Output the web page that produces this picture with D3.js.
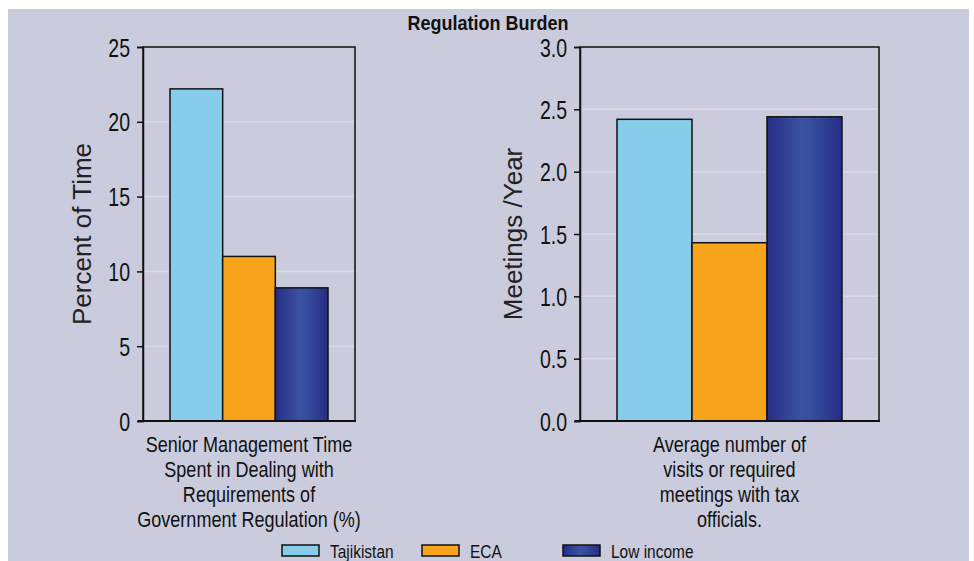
<!DOCTYPE html>
<html><head><meta charset="utf-8">
<script src="https://cdn.jsdelivr.net/npm/d3@7"></script>
<style>
body{margin:0;background:#fff;}
svg{display:block;}
</style></head><body>
<svg id="c" width="974" height="561"></svg>
<script>
const title = "Regulation Burden";
const seriesNames = ["Tajikistan", "ECA", "Low income"];
const seriesColors = ["#87CCEA", "#F8A31C", "#2E3A92"];
const chart1Values = [22.2, 11.0, 8.9];
const chart2Values = [2.42, 1.43, 2.44];
const chart1Ticks = [0, 5, 10, 15, 20, 25];
const chart2Ticks = [0, 0.5, 1.0, 1.5, 2.0, 2.5, 3.0];
const chart1Category = ["Senior Management Time", "Spent in Dealing with", "Requirements of", "Government Regulation (%)"];
const chart2Category = ["Average number of", "visits or required", "meetings with tax", "officials."];
const chart1YTitle = "Percent of Time";
const chart2YTitle = "Meetings /Year";

const FONT = "'Liberation Sans',Arial,sans-serif";
const svg = d3.select("#c");
svg.append("rect").attr("x",8).attr("y",9).attr("width",961).attr("height",552).attr("fill","#CACCDD");

const defs = svg.append("defs");
const g = defs.append("linearGradient").attr("id","navy").attr("x1","0").attr("x2","1").attr("y1","0").attr("y2","0");
g.append("stop").attr("offset","0").attr("stop-color","#262D86");
g.append("stop").attr("offset","0.45").attr("stop-color","#3A52A0");
g.append("stop").attr("offset","0.6").attr("stop-color","#364C9C");
g.append("stop").attr("offset","1").attr("stop-color","#262D86");
const fills = [seriesColors[0], seriesColors[1], "url(#navy)"];

function ntext(parent, x, y, sx, txt, size, anchor, weight){
  return parent.append("text").attr("transform",`translate(${x},${y}) scale(${sx},1)`)
    .attr("text-anchor",anchor||"start").attr("font-family",FONT).attr("font-size",size)
    .attr("font-weight",weight||"normal").attr("fill","#111").text(txt);
}

ntext(svg, 488, 30, 0.9, title, 20, "middle", "bold");

function panel(opt){
  const {x0,x1,y0,y1,domain,ticks,fmt,values,cat,ytitle,ytx,pad} = opt;
  const y = d3.scaleLinear().domain(domain).range([y1,y0]);
  const xs = d3.scaleBand().domain(seriesNames).range([x0+pad, x1-pad]).paddingInner(0).paddingOuter(0);
  const p = svg.append("g");
  p.selectAll("line.grid").data(ticks.filter(t=>t>domain[0] && t<domain[1])).join("line")
    .attr("x1",x0).attr("x2",x1).attr("y1",d=>y(d)).attr("y2",d=>y(d))
    .attr("stroke","#D9D9DF").attr("stroke-width",1.5);
  p.selectAll("rect.bar").data(values).join("rect")
    .attr("x",(d,i)=>xs(seriesNames[i])).attr("width",xs.bandwidth())
    .attr("y",d=>y(d)).attr("height",d=>y(0)-y(d))
    .attr("fill",(d,i)=>fills[i]).attr("stroke","#111").attr("stroke-width",1.5);
  p.append("path").attr("d",`M${x0},${y1}V${y0}H${x1}V${y1}`).attr("fill","none").attr("stroke","#111").attr("stroke-width",1.5);
  const ax = d3.axisLeft(y).tickValues(ticks).tickFormat(()=>"").tickSize(6).tickPadding(0);
  const ag = p.append("g").attr("transform",`translate(${x0},0)`).call(ax);
  ag.select(".domain").attr("stroke","#111").attr("stroke-width",1.5);
  ag.selectAll(".tick line").attr("stroke","#111").attr("stroke-width",1.5);
  ag.selectAll(".tick").each(function(d){
    ntext(d3.select(this), -13, 9, 0.78, fmt(d), 25, "end");
  });
  p.append("line").attr("x1",x0-5).attr("x2",x1+1).attr("y1",y1).attr("y2",y1).attr("stroke","#111").attr("stroke-width",2);
  p.append("text").attr("transform",`translate(${ytx},${(y0+y1)/2}) rotate(-90)`).attr("text-anchor","middle")
    .attr("font-family",FONT).attr("font-size",26).attr("fill","#222").text(ytitle);
  const cx = (x0+x1)/2;
  cat.forEach((t,i)=>ntext(p, cx, 452+i*25, 0.82, t, 22, "middle"));
}

panel({x0:143,x1:355,y0:47,y1:421,domain:[0,25],ticks:chart1Ticks,fmt:d3.format("d"),values:chart1Values,cat:chart1Category,ytitle:chart1YTitle,ytx:91,pad:27});
panel({x0:580,x1:879,y0:47,y1:421,domain:[0,3],ticks:chart2Ticks,fmt:d3.format(".1f"),values:chart2Values,cat:chart2Category,ytitle:chart2YTitle,ytx:522,pad:37});

const legX = [282, 422, 563];
const lg = svg.append("g");
seriesNames.forEach((s,i)=>{
  lg.append("rect").attr("x",legX[i]).attr("y",545).attr("width",37).attr("height",11)
    .attr("fill",fills[i]).attr("stroke","#111").attr("stroke-width",1.5);
  ntext(lg, legX[i]+48, 558, 0.86, s, 18, "start");
});
</script></body></html>
